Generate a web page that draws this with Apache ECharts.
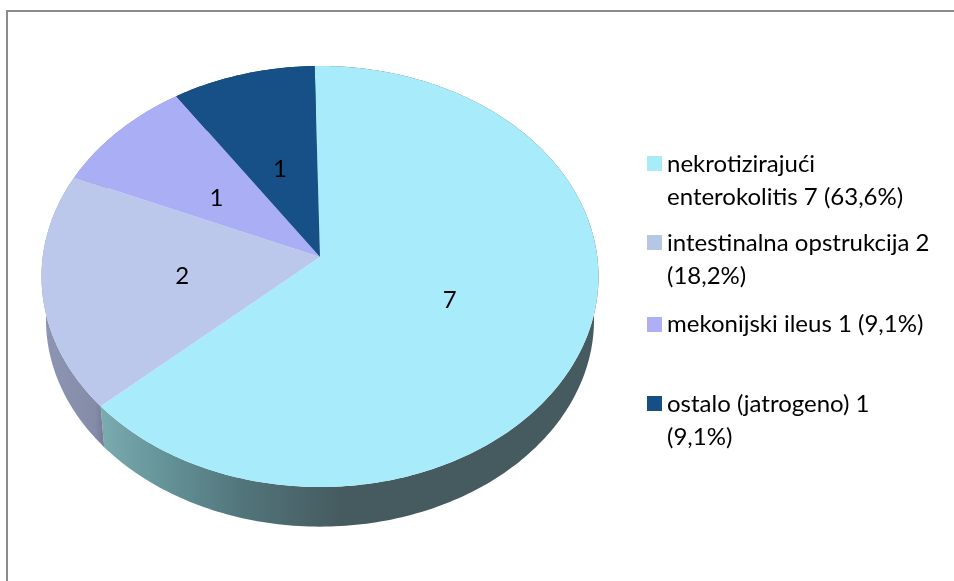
<!DOCTYPE html>
<html>
<head>
<meta charset="utf-8">
<style>html,body{margin:0;padding:0;background:#fff}#c{width:954px;height:581px}</style>
<script src="https://cdn.jsdelivr.net/npm/echarts@6/dist/echarts.min.js"></script>
</head>
<body>
<div id="c"></div>
<script>
const categories = [
  'nekrotizirajući\nenterokolitis 7 (63,6%)',
  'intestinalna opstrukcija 2\n(18,2%)',
  'mekonijski ileus 1 (9,1%)',
  'ostalo (jatrogeno) 1\n(9,1%)'
];
const values = [7, 2, 1, 1];
const topColors = ['#a8ecfb', '#bbc8ec', '#aaaef5', '#165086'];
const legendColors = ['#a8ecfa', '#b6c7e6', '#aeaff5', '#154f84'];
const legendTops = [148, 227, 308, 388];

const FONT = 'Lato';
const total = values.reduce((a, b) => a + b, 0);
const startDeg = -1.2;
// Tilted-disc projection of the unit circle
const apex = { x: 320, y: 257 }, A = 277.3, B = 208.7, K = 0.0926;
const project = (deg, r) => {
  const t = deg * Math.PI / 180, u = Math.sin(t) * r, v = Math.cos(t) * r, w = 1 + K * v;
  return [apex.x + A * u / w, apex.y - B * v / w];
};
const lower = p => [320 + (p[0] - 320) * 0.984, 320 + (p[1] - 277) * 0.984];

const wallFill = [
  new echarts.graphic.LinearGradient(102, 0, 340, 0, [
    { offset: 0, color: '#7aabaf' }, { offset: 0.25, color: '#659499' },
    { offset: 0.6, color: '#51747a' }, { offset: 1, color: '#465b60' }], true),
  new echarts.graphic.LinearGradient(45, 0, 104, 0, [
    { offset: 0, color: '#8d95b3' }, { offset: 0.85, color: '#858ca8' }, { offset: 1, color: '#737a96' }], true),
  '#8589b5', '#0f3558'
];

const renderSlice = idx => (params, api) => {
  const before = values.slice(0, idx).reduce((a, b) => a + b, 0);
  const a0 = startDeg + before / total * 360;
  const a1 = a0 + api.value(0) / total * 360;
  const rim = [];
  const n = Math.ceil(a1 - a0);
  for (let i = 0; i <= n; i++) rim.push(project(a0 + (a1 - a0) * i / n, 1));
  const mid = (a0 + a1) / 2, lp = project(mid, 0.5);
  const lv = Math.cos(mid * Math.PI / 180);
  return {
    type: 'group',
    children: [
      { type: 'polygon', z2: 1, shape: { points: rim.concat(rim.map(lower).reverse()) },
        style: { fill: wallFill[idx] } },
      { type: 'polygon', z2: 10, shape: { points: [[apex.x, apex.y]].concat(rim) },
        style: { fill: api.visual('color') } },
      { type: 'text', z2: 20, x: lp[0], y: lp[1] + 3 + 5 * lv,
        style: { text: String(api.value(0)), fill: '#000', font: '24px ' + FONT, align: 'center', verticalAlign: 'middle' } }
    ]
  };
};

const chart = echarts.init(document.getElementById('c'), null, { renderer: 'canvas' });
chart.setOption({
  animation: false,
  backgroundColor: '#fff',
  color: topColors,
  graphic: [
    { type: 'rect', shape: { x: 6, y: 10, width: 2, height: 571 }, style: { fill: '#8c8c8c' }, silent: true },
    { type: 'rect', shape: { x: 6, y: 10, width: 948, height: 2 }, style: { fill: '#8c8c8c' }, silent: true }
  ],
  legend: categories.map((name, i) => {
    const twoLine = name.includes('\n');
    return {
      left: 647, top: legendTops[i], padding: 0, orient: 'vertical',
      data: [{ name, itemStyle: { color: legendColors[i] } }],
      itemWidth: 15, itemHeight: twoLine ? 50 : 15,
      icon: twoLine ? 'path://M0 0H15V15H0Z M15 50' : 'rect',
      selectedMode: false,
      textStyle: { fontFamily: FONT, fontSize: 24, color: '#000', lineHeight: 33 }
    };
  }),
  series: categories.map((name, i) => ({
    type: 'custom', name, coordinateSystem: 'none', silent: true,
    renderItem: renderSlice(i),
    data: [[values[i]]]
  }))
});
</script>
</body>
</html>
